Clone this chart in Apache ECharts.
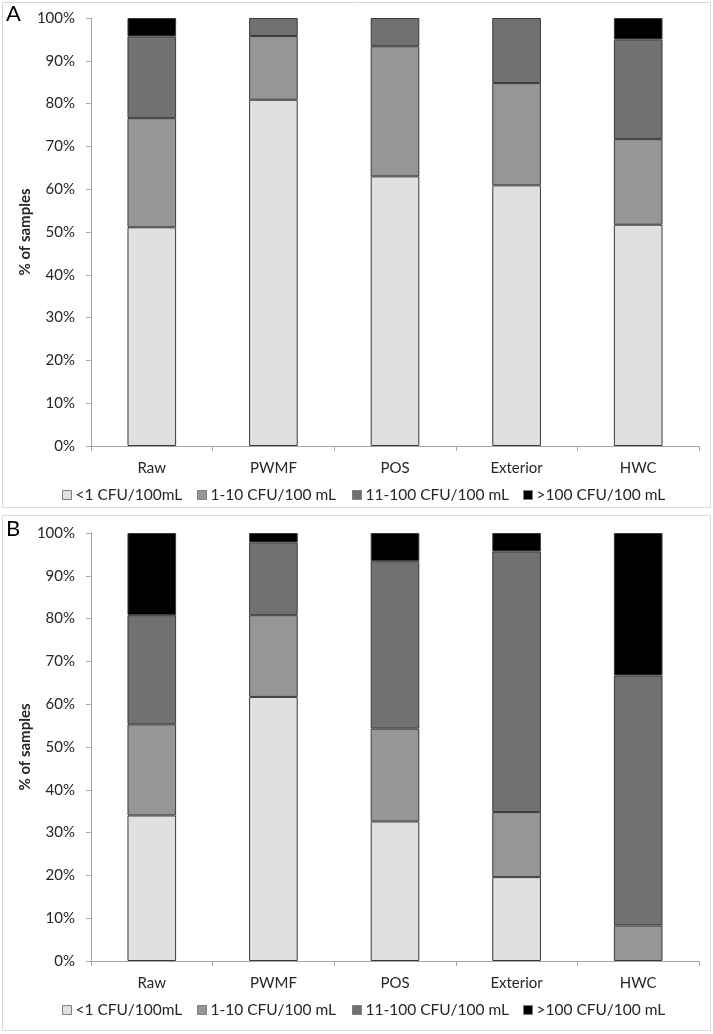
<!DOCTYPE html>
<html>
<head>
<meta charset="utf-8">
<script src="https://cdn.jsdelivr.net/npm/echarts@6/dist/echarts.min.js"></script>
<style>
html,body{margin:0;padding:0;background:#fff;}
#chart{width:713px;height:1034px;}
</style>
</head>
<body>
<div id="chart"></div>
<script>
const categories = ['Raw', 'PWMF', 'POS', 'Exterior', 'HWC'];
const seriesNames = ['<1 CFU/100mL', '1-10 CFU/100 mL', '11-100 CFU/100 mL', '>100 CFU/100 mL'];

// Panel A
const A_lt1     = [51.1, 80.9, 63.0, 60.9, 51.7];
const A_1to10   = [25.5, 14.9, 30.4, 23.9, 20.0];
const A_11to100 = [19.1, 4.2, 6.6, 15.2, 23.3];
const A_gt100   = [4.3, 0, 0, 0, 5.0];

// Panel B
const B_lt1     = [34.0, 61.7, 32.6, 19.6, 0];
const B_1to10   = [21.3, 19.1, 21.7, 15.2, 8.3];
const B_11to100 = [25.5, 17.0, 39.1, 60.9, 58.4];
const B_gt100   = [19.2, 2.2, 6.6, 4.3, 33.3];

const colors = ['#e0e0e0', '#969696', '#717171', '#000000'];
const FONT = 'Lato';
const TXT = '#262626';

const chart = echarts.init(document.getElementById('chart'), null, {renderer: 'canvas'});

function clean(arr) { return arr.map(v => v === 0 ? '-' : v); }

function xAxis(gi) {
  return {
    type: 'category', gridIndex: gi, data: categories,
    axisLine: {lineStyle: {color: '#a6a6a6', width: 1}},
    axisTick: {show: true, length: 5, lineStyle: {color: '#a6a6a6'}},
    axisLabel: {color: TXT, fontFamily: FONT, fontSize: 15, margin: 15}
  };
}
function yAxis(gi) {
  return {
    type: 'value', gridIndex: gi, min: 0, max: 100, interval: 10,
    name: '% of samples', nameLocation: 'middle', nameRotate: 90, nameGap: 58,
    nameMoveOverlap: false,
    nameTextStyle: {color: TXT, fontFamily: FONT, fontSize: 15, fontWeight: 'bold'},
    axisLine: {show: true, lineStyle: {color: '#a6a6a6', width: 1}},
    axisTick: {show: true, length: 5, lineStyle: {color: '#a6a6a6'}},
    axisLabel: {color: TXT, fontFamily: FONT, fontSize: 15, margin: 16, formatter: '{value}%'},
    splitLine: {show: false}
  };
}
function barSeries(name, data, idx, gi, stack) {
  return {
    type: 'bar', name: name, stack: stack, xAxisIndex: gi, yAxisIndex: gi,
    data: clean(data), barWidth: '40%',
    itemStyle: {color: colors[idx], borderColor: '#3a3a3a', borderWidth: 1},
    emphasis: {disabled: true}
  };
}

const A = [A_lt1, A_1to10, A_11to100, A_gt100];
const B = [B_lt1, B_1to10, B_11to100, B_gt100];
const series = [];
A.forEach((d, i) => series.push(barSeries(seriesNames[i], d, i, 0, 'A')));
B.forEach((d, i) => series.push(barSeries(seriesNames[i], d, i, 1, 'B')));

const legendLefts = [62, 197, 352, 523];
const legends = [];
[487, 1002].forEach(top => {
  seriesNames.forEach((nm, i) => {
    legends.push({
      data: [nm], left: legendLefts[i], top: top, orient: 'horizontal',
      itemWidth: 9, itemHeight: 9, icon: 'rect', padding: 0,
      itemStyle: {borderColor: '#7f7f7f', borderWidth: 1},
      textStyle: {color: TXT, fontFamily: FONT, fontSize: 15.5, padding: [0, 0, 0, -1]},
      selectedMode: false
    });
  });
});

chart.setOption({
  animation: false,
  backgroundColor: '#ffffff',
  grid: [
    {left: 91, width: 608, top: 18, height: 428},
    {left: 91, width: 608, top: 533, height: 428}
  ],
  xAxis: [xAxis(0), xAxis(1)],
  yAxis: [yAxis(0), yAxis(1)],
  legend: legends,
  series: series,
  graphic: [
    {type: 'rect', shape: {x: 2.5, y: 2.5, width: 708, height: 505}, style: {fill: 'none', stroke: '#d9d9d9', lineWidth: 1}, silent: true},
    {type: 'rect', shape: {x: 2.5, y: 515.5, width: 708, height: 515}, style: {fill: 'none', stroke: '#d9d9d9', lineWidth: 1}, silent: true},
    {type: 'text', left: 6, top: 3, style: {text: 'A', fontFamily: FONT, fontSize: 22, fill: '#000'}},
    {type: 'text', left: 6, top: 518, style: {text: 'B', fontFamily: FONT, fontSize: 22, fill: '#000'}}
  ]
});
</script>
</body>
</html>
